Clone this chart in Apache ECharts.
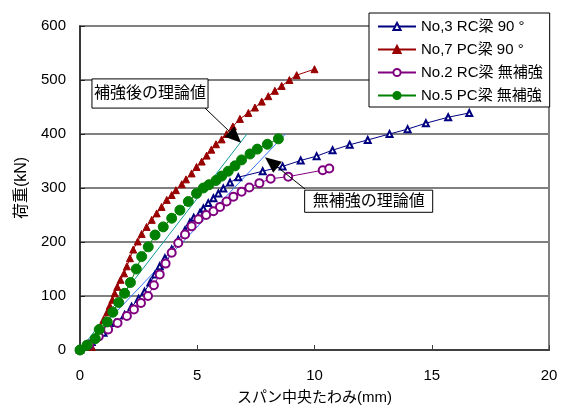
<!DOCTYPE html>
<html><head><meta charset="utf-8">
<script src="https://cdn.jsdelivr.net/npm/echarts@6/dist/echarts.min.js"></script>
<style>html,body{margin:0;padding:0;background:#fff}#c{width:575px;height:406px}</style>
</head><body><div id="c"></div>
<script>
const xTicks = [0, 5, 10, 15, 20];
const yTicks = [0, 100, 200, 300, 400, 500, 600];
const seriesNames = ['No,3 RC梁 90 °', 'No,7 PC梁 90 °', 'No.2 RC梁 無補強', 'No.5 PC梁 無補強'];

const no3RC90 = [[0,0],[0.5,15],[1.0,32],[1.5,50],[1.9,65],[2.2,80],[2.5,95],[2.75,108],[3.0,125],[3.2,140],[3.4,155],[3.62,170],[3.91,186],[4.19,204],[4.48,222],[4.69,236],[4.85,245],[5.12,254],[5.26,262],[5.47,272],[5.69,281],[5.9,290],[6.11,299],[6.4,310],[6.75,320],[7.79,331],[8.64,340],[9.41,351],[10.09,359],[10.77,370],[11.5,380],[12.27,389],[13.2,400],[13.97,409],[14.75,420],[15.7,431],[16.6,439]];
const no7PC90 = [[0,0],[0.5,6],[0.7,25],[0.85,42],[1.0,56],[1.16,70],[1.27,82],[1.38,93],[1.48,105],[1.59,117],[1.73,130],[1.88,142],[2.0,155],[2.13,170],[2.27,186],[2.46,201],[2.63,215],[2.84,228],[3.06,241],[3.27,253],[3.48,265],[3.7,278],[3.91,287],[4.09,296],[4.34,307],[4.52,316],[4.76,327],[4.97,339],[5.19,349],[5.4,360],[5.6,371],[5.8,381],[6.04,390],[6.25,400],[6.52,414],[6.82,428],[7.18,439],[7.46,449],[7.75,460],[8.03,470],[8.31,480],[8.6,489],[8.93,500],[9.24,509],[10.0,520]];
const no2RC = [[0,0],[0.4,10],[0.8,25],[1.2,38],[1.6,50],[2.0,63],[2.3,75],[2.6,87],[2.9,100],[3.15,120],[3.4,140],[3.65,160],[3.91,180],[4.19,198],[4.48,214],[4.76,229],[5.05,242],[5.38,250],[5.69,257],[5.97,265],[6.25,275],[6.54,284],[6.89,293],[7.22,301],[7.65,309],[8.13,317],[8.88,321],[10.35,333],[10.63,336]];
const no5PC = [[0,0],[0.3,9],[0.65,21],[0.82,38],[1.16,52],[1.4,70],[1.65,88],[1.9,105],[2.15,125],[2.4,150],[2.63,173],[2.91,191],[3.2,213],[3.55,228],[3.91,244],[4.26,259],[4.62,275],[4.97,290],[5.26,300],[5.5,306],[5.8,314],[6.04,322],[6.32,331],[6.61,341],[6.89,352],[7.25,363],[7.56,372],[7.99,381],[8.46,391]];
const theoryStrengthened = [[0,0],[7.12,400]];
const theoryPlain = [[0,0],[8.76,400]];

const labelStrengthened = '補強後の理論値';
const labelPlain = '無補強の理論値';

const font = '"Liberation Sans", Arial, "Noto Sans CJK JP", sans-serif';
const chart = echarts.init(document.getElementById('c'), null, {renderer: 'canvas'});

const mk = (name, data, color, symbol, size) => ({
  name, type: 'line', data, symbol, symbolSize: size, showSymbol: true,
  lineStyle: {color, width: 1}, itemStyle: {color, borderColor: color, borderWidth: 1},
  animation: false, z: 3
});

chart.setOption({
  animation: false,
  textStyle: {fontFamily: font},
  grid: {left: 80, right: 26, top: 26, bottom: 56, show: true, borderColor: '#808080', borderWidth: 2, containLabel: false, outerBoundsMode: 'none'},
  xAxis: {
    type: 'value', min: 0, max: 20, interval: 5,
    name: 'スパン中央たわみ(mm)', nameLocation: 'middle', nameGap: 40,
    nameTextStyle: {fontSize: 15, color: '#000', fontFamily: font},
    axisLine: {lineStyle: {color: '#404040', width: 2}},
    axisTick: {inside: true, length: 5, lineStyle: {color: '#404040'}},
    axisLabel: {fontSize: 15, color: '#000', margin: 18, fontFamily: font, formatter: v => xTicks.includes(v) ? String(v) : ''},
    splitLine: {show: false}
  },
  yAxis: {
    type: 'value', min: 0, max: 600, interval: 100,
    name: '荷重(kN)', nameLocation: 'middle', nameGap: 41, nameRotate: 90,
    nameTextStyle: {fontSize: 16, color: '#000', fontFamily: font},
    axisLine: {lineStyle: {color: '#202020', width: 1.5}},
    axisTick: {inside: true, length: 5, lineStyle: {color: '#202020'}},
    axisLabel: {fontSize: 15, color: '#000', margin: 14, fontFamily: font, formatter: v => yTicks.includes(v) ? String(v) : ''},
    splitLine: {lineStyle: {color: '#808080', width: 2}}
  },
  legend: {
    data: seriesNames, orient: 'vertical', left: 369, top: 13,
    itemWidth: 38, itemHeight: 9, itemGap: 8,
    backgroundColor: '#fff', borderColor: '#000', borderWidth: 1,
    padding: [6, 7, 4, 8],
    textStyle: {fontSize: 15, color: '#000', fontFamily: font}
  },
  series: [
    {name: 'theoryA', type: 'line', data: theoryStrengthened, symbol: 'none', lineStyle: {color: '#129999', width: 1}, z: 2, animation: false},
    {name: 'theoryB', type: 'line', data: theoryPlain, symbol: 'none', lineStyle: {color: '#3377ff', width: 1}, z: 2, animation: false},
    mk(seriesNames[0], no3RC90, '#000080', 'emptyTriangle', 6),
    mk(seriesNames[1], no7PC90, '#990000', 'triangle', 7),
    mk(seriesNames[2], no2RC, '#800080', 'emptyCircle', 8),
    mk(seriesNames[3], no5PC, '#008000', 'circle', 10)
  ]
});

function drawAnnotations() {
  const p = (x, y) => chart.convertToPixel({gridIndex: 0}, [x, y]);
  const arrow = (from, to) => {
    const a = p(from[0], from[1]), b = p(to[0], to[1]);
    const ang = Math.atan2(b[1] - a[1], b[0] - a[0]);
    const L = 16, W = 7;
    const bx = b[0] - L * Math.cos(ang), by = b[1] - L * Math.sin(ang);
    const nx = -Math.sin(ang), ny = Math.cos(ang);
    return [
      {type: 'line', shape: {x1: a[0], y1: a[1], x2: bx, y2: by}, style: {stroke: '#000', lineWidth: 1}, z: 10},
      {type: 'polygon', shape: {points: [[b[0], b[1]], [bx + nx * W, by + ny * W], [bx - nx * W, by - ny * W]]}, style: {fill: '#000'}, z: 10}
    ];
  };
  const box = (tl, br, text) => {
    const a = p(tl[0], tl[1]), b = p(br[0], br[1]);
    return [
      {type: 'rect', shape: {x: a[0], y: a[1], width: b[0] - a[0], height: b[1] - a[1]}, style: {fill: '#fff', stroke: '#000', lineWidth: 1}, z: 11},
      {type: 'text', x: (a[0] + b[0]) / 2, y: (a[1] + b[1]) / 2, style: {text, fontSize: 16, fontFamily: font, fill: '#000', align: 'center', verticalAlign: 'middle'}, z: 12}
    ];
  };
  chart.setOption({graphic: [
    ...arrow([5.33, 448], [6.87, 384]),
    ...arrow([9.6, 298], [7.89, 357]),
    ...box([0.51, 502], [5.46, 448], labelStrengthened),
    ...box([9.58, 296], [15.04, 255], labelPlain)
  ]});
}
drawAnnotations();
</script></body></html>
